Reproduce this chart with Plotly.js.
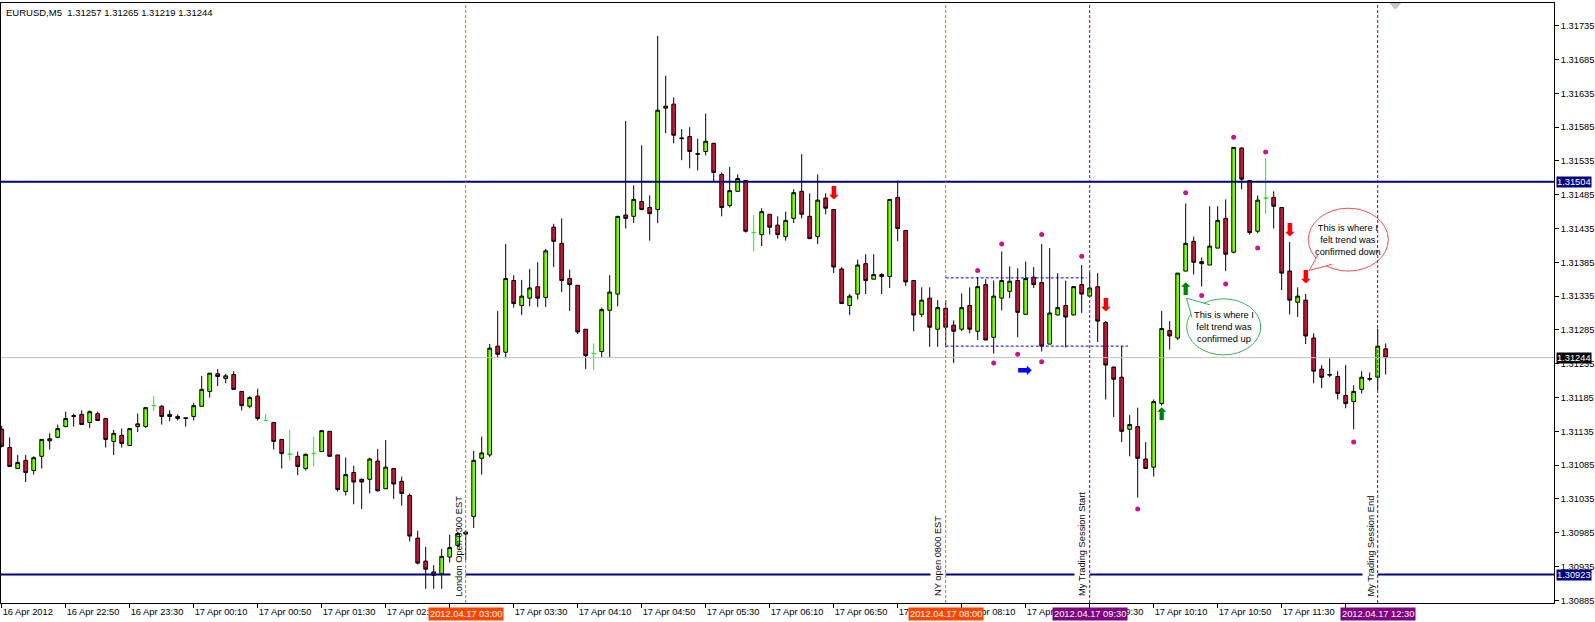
<!DOCTYPE html>
<html><head><meta charset="utf-8">
<script src="https://cdn.plot.ly/plotly-3.0.1.min.js"></script>
<style>html,body{margin:0;padding:0;background:#fff}#chart{width:1595px;height:622px}</style>
</head><body><div id="chart"></div>
<script>
// EURUSD M5 candles, 16 Apr 2012 22:10 -> 17 Apr 2012 12:35 (one candle every 5 minutes)
const openP = [1.31138,1.31111,1.31080,1.31092,1.31077,1.31098,1.31121,1.31126,1.31142,1.31157,
1.31160,1.31148,1.31161,1.31154,1.31120,1.31129,1.31114,1.31142,1.31142,1.31173,
1.31172,1.31160,1.31154,1.31155,1.31157,1.31172,1.31194,1.31220,1.31213,1.31219,
1.31194,1.31172,1.31187,1.31151,1.31148,1.31123,1.31101,1.31098,1.31080,1.31102,
1.31105,1.31135,1.31100,1.31046,1.31074,1.31064,1.31064,1.31091,1.31050,1.31080,
1.31061,1.31040,1.30977,1.30943,1.30927,1.30924,1.30949,1.30966,1.30983,1.31009,
1.31095,1.31100,1.31261,1.31252,1.31358,1.31321,1.31332,1.31349,1.31333,1.31437,
1.31413,1.31361,1.31351,1.31286,1.31250,1.31253,1.31314,1.31338,1.31455,1.31453,
1.31475,1.31466,1.31463,1.31613,1.31619,1.31569,1.31571,1.31546,1.31549,1.31561,
1.31515,1.31469,1.31490,1.31506,1.31429,1.31426,1.31456,1.31440,1.31423,1.31450,
1.31490,1.31453,1.31423,1.31480,1.31463,1.31375,1.31321,1.31338,1.31383,1.31360,
1.31364,1.31364,1.31481,1.31432,1.31358,1.31308,1.31332,1.31286,1.31317,1.31292,
1.31286,1.31321,1.31283,1.31352,1.31274,1.31332,1.31342,1.31358,1.31308,1.31363,
1.31355,1.31264,1.31307,1.31321,1.31307,1.31352,1.31335,1.31349,1.31296,1.31230,
1.31215,1.31138,1.31142,1.31094,1.31082,1.31176,1.31284,1.31273,1.31372,1.31416,
1.31386,1.31381,1.31406,1.31450,1.31400,1.31554,1.31506,1.31431,1.31480,1.31481,
1.31466,1.31372,1.31326,1.31329,1.31273,1.31227,1.31218,1.31216,1.31188,1.31179,
1.31197,1.31212,1.31215,1.31257];
const highP = [1.31143,1.31126,1.31100,1.31100,1.31098,1.31123,1.31132,1.31145,1.31164,1.31161,
1.31166,1.31166,1.31164,1.31155,1.31137,1.31139,1.31139,1.31161,1.31170,1.31187,
1.31174,1.31166,1.31160,1.31155,1.31177,1.31217,1.31221,1.31227,1.31220,1.31224,
1.31194,1.31187,1.31198,1.31161,1.31148,1.31123,1.31137,1.31105,1.31102,1.31127,
1.31136,1.31135,1.31100,1.31096,1.31084,1.31065,1.31096,1.31109,1.31122,1.31080,
1.31068,1.31043,1.30988,1.30964,1.30937,1.30961,1.30982,1.30986,1.30989,1.31106,
1.31127,1.31264,1.31313,1.31412,1.31366,1.31359,1.31375,1.31385,1.31405,1.31442,
1.31450,1.31374,1.31351,1.31286,1.31265,1.31318,1.31366,1.31453,1.31594,1.31499,
1.31558,1.31484,1.31720,1.31661,1.31629,1.31582,1.31585,1.31568,1.31605,1.31562,
1.31518,1.31526,1.31515,1.31506,1.31455,1.31465,1.31456,1.31453,1.31460,1.31493,
1.31545,1.31487,1.31515,1.31487,1.31463,1.31378,1.31338,1.31389,1.31397,1.31397,
1.31369,1.31478,1.31506,1.31432,1.31358,1.31348,1.31348,1.31329,1.31329,1.31299,
1.31339,1.31348,1.31363,1.31360,1.31358,1.31401,1.31379,1.31376,1.31386,1.31378,
1.31412,1.31406,1.31369,1.31358,1.31349,1.31381,1.31370,1.31369,1.31298,1.31231,
1.31261,1.31159,1.31170,1.31119,1.31182,1.31313,1.31298,1.31369,1.31472,1.31423,
1.31392,1.31468,1.31468,1.31478,1.31555,1.31555,1.31506,1.31484,1.31539,1.31490,
1.31466,1.31415,1.31348,1.31338,1.31280,1.31233,1.31243,1.31224,1.31233,1.31203,
1.31224,1.31222,1.31287,1.31265];
const lowP = [1.31111,1.31083,1.31080,1.31060,1.31071,1.31080,1.31108,1.31125,1.31141,1.31142,
1.31145,1.31140,1.31151,1.31111,1.31100,1.31111,1.31114,1.31134,1.31140,1.31165,
1.31145,1.31150,1.31151,1.31142,1.31151,1.31172,1.31185,1.31202,1.31206,1.31197,
1.31166,1.31169,1.31151,1.31151,1.31108,1.31080,1.31092,1.31070,1.31077,1.31083,
1.31105,1.31098,1.31046,1.31040,1.31027,1.31020,1.31043,1.31046,1.31050,1.31035,
1.31025,1.30972,1.30938,1.30902,1.30902,1.30902,1.30941,1.30964,1.30945,1.30992,
1.31071,1.31097,1.31243,1.31243,1.31318,1.31307,1.31320,1.31319,1.31319,1.31378,
1.31341,1.31313,1.31279,1.31227,1.31226,1.31245,1.31245,1.31320,1.31435,1.31443,
1.31462,1.31417,1.31443,1.31576,1.31561,1.31536,1.31524,1.31521,1.31543,1.31505,
1.31453,1.31466,1.31490,1.31429,1.31401,1.31409,1.31426,1.31420,1.31417,1.31443,
1.31450,1.31420,1.31412,1.31456,1.31369,1.31324,1.31307,1.31330,1.31338,1.31360,
1.31338,1.31347,1.31416,1.31350,1.31283,1.31304,1.31260,1.31260,1.31260,1.31236,
1.31283,1.31280,1.31270,1.31270,1.31250,1.31314,1.31332,1.31274,1.31307,1.31347,
1.31253,1.31264,1.31307,1.31259,1.31307,1.31310,1.31335,1.31267,1.31182,1.31156,
1.31119,1.31098,1.31037,1.31080,1.31068,1.31173,1.31256,1.31270,1.31372,1.31367,
1.31349,1.31381,1.31406,1.31372,1.31398,1.31493,1.31426,1.31428,1.31456,1.31435,
1.31344,1.31308,1.31304,1.31264,1.31206,1.31199,1.31215,1.31182,1.31169,1.31138,
1.31191,1.31209,1.31196,1.31219];
const closeP = [1.31113,1.31083,1.31089,1.31074,1.31096,1.31123,1.31124,1.31139,1.31154,1.31158,
1.31145,1.31164,1.31151,1.31123,1.31132,1.31117,1.31139,1.31146,1.31170,1.31173,
1.31157,1.31157,1.31157,1.31154,1.31173,1.31197,1.31221,1.31216,1.31217,1.31197,
1.31173,1.31185,1.31154,1.31151,1.31120,1.31102,1.31101,1.31083,1.31101,1.31102,
1.31136,1.31098,1.31049,1.31071,1.31060,1.31060,1.31094,1.31047,1.31082,1.31057,
1.31043,1.30980,1.30940,1.30931,1.30922,1.30950,1.30963,1.30984,1.30986,1.31092,
1.31103,1.31258,1.31249,1.31361,1.31324,1.31335,1.31347,1.31332,1.31402,1.31416,
1.31358,1.31352,1.31282,1.31247,1.31250,1.31315,1.31341,1.31453,1.31450,1.31478,
1.31463,1.31457,1.31610,1.31616,1.31573,1.31568,1.31549,1.31545,1.31564,1.31518,
1.31466,1.31491,1.31509,1.31431,1.31429,1.31460,1.31437,1.31426,1.31447,1.31488,
1.31456,1.31420,1.31477,1.31465,1.31378,1.31324,1.31335,1.31381,1.31358,1.31367,
1.31367,1.31478,1.31435,1.31356,1.31307,1.31329,1.31289,1.31318,1.31289,1.31283,
1.31318,1.31286,1.31349,1.31270,1.31335,1.31358,1.31357,1.31311,1.31361,1.31352,
1.31261,1.31310,1.31318,1.31304,1.31349,1.31338,1.31347,1.31298,1.31233,1.31212,
1.31135,1.31145,1.31095,1.31080,1.31179,1.31287,1.31276,1.31369,1.31413,1.31385,
1.31383,1.31409,1.31447,1.31397,1.31555,1.31508,1.31429,1.31477,1.31480,1.31468,
1.31369,1.31329,1.31335,1.31276,1.31224,1.31215,1.31219,1.31191,1.31176,1.31194,
1.31215,1.31213,1.31261,1.31244];

// time axis labels (every 8 candles = 40 minutes); labels fully hidden under the event stamps are left blank
const xTickIdx = [0,8,16,24,32,40,48,56,64,72,80,88,96,104,112,120,128,136,144,152,160,168];
const xTickLabels = ['16 Apr 2012','16 Apr 22:50','16 Apr 23:30','17 Apr 00:10','17 Apr 00:50','17 Apr 01:30',
 '17 Apr 02:10','','17 Apr 03:30','17 Apr 04:10','17 Apr 04:50','17 Apr 05:30','17 Apr 06:10',
 '17 Apr 06:50','17 Apr 07:30','17 Apr 08:10','17 Apr 08:50','17 Apr 09:30','17 Apr 10:10','17 Apr 10:50',
 '17 Apr 11:30',''];
const yTickVals = [1.31735,1.31685,1.31635,1.31585,1.31535,1.31485,1.31435,1.31385,1.31335,1.31285,
 1.31235,1.31185,1.31135,1.31085,1.31035,1.30985,1.30935,1.30885];

// vertical event lines
const eventIdx = [58,118,136,172];
const eventText = ['London Open 0300 EST','NY open 0800 EST','My Trading Session Start','My Trading Session End'];
const eventStamp = ['2012.04.17 03:00','2012.04.17 08:00','2012.04.17 09:30','2012.04.17 12:30'];
const eventColor = ['#D2691E','#D2691E','#800080','#800080'];
const eventBg = ['#FF4500','#FF4500','#800080','#800080'];

// horizontal levels
const resistance = 1.31504, support = 1.30923;
const rangeTop = 1.31362, rangeBottom = 1.31261;
const rangeStart = 118, rangeTopEnd = 135.6, rangeBottomEnd = 140.8;

// fractal dots
const dotIdx = [122,125,130,135,124,127,130,142,148,154,158,150,153,157,169];
const dotPrice = [1.31373,1.31412,1.31426,1.31394,1.31236,1.31249,1.31238,1.31020,1.31488,1.31570,1.31548,1.31336,1.31353,1.31406,1.31119];

// arrows
const downIdx = [104,138,161,163];
const downPrice = [1.31486,1.31320,1.31431,1.31361];
const upIdx = [148,145];
const upPrice = [1.31343,1.31158];
const rightIdx = [127.85];
const rightPrice = [1.31224];

const N = openP.length;
const idx = openP.map((_, i) => i);
const mainI = idx.filter(i => openP[i] !== closeP[i]);
const dojiI = idx.filter(i => openP[i] === closeP[i]);
const pick = (arr, ii) => ii.map(i => arr[i]);

const FONT = 'Liberation Sans, Arial, sans-serif';
const traces = [
 {type:'candlestick', x: mainI, open: pick(openP, mainI), high: pick(highP, mainI), low: pick(lowP, mainI), close: pick(closeP, mainI),
  increasing:{line:{color:'#000000', width:1}, fillcolor:'#7CFC00'},
  decreasing:{line:{color:'#000000', width:1}, fillcolor:'#C0193F'},
  whiskerwidth:0, hoverinfo:'skip', showlegend:false},
 {type:'candlestick', x: dojiI, open: pick(openP, dojiI), high: pick(highP, dojiI), low: pick(lowP, dojiI), close: pick(closeP, dojiI),
  increasing:{line:{color:'#00FF00', width:1}, fillcolor:'#00FF00'},
  decreasing:{line:{color:'#00FF00', width:1}, fillcolor:'#00FF00'},
  whiskerwidth:0, hoverinfo:'skip', showlegend:false},
 {type:'scatter', mode:'markers', x: dotIdx, y: dotPrice, marker:{color:'#C8168C', size:5}, hoverinfo:'skip', showlegend:false},
 {type:'scatter', mode:'text', x: downIdx, y: downPrice, text: downIdx.map(()=>'⬇'), textfont:{family:'DejaVu Sans', size:18, weight:'bold', color:'#FF0000'}, hoverinfo:'skip', showlegend:false},
 {type:'scatter', mode:'text', x: upIdx, y: upPrice, text: upIdx.map(()=>'⬆'), textfont:{family:'DejaVu Sans', size:17, weight:'bold', color:'#008000'}, hoverinfo:'skip', showlegend:false},
 {type:'scatter', mode:'text', x: rightIdx, y: rightPrice, text: rightIdx.map(()=>'➡'), textfont:{family:'DejaVu Sans', size:18, weight:'bold', color:'#0000FF'}, hoverinfo:'skip', showlegend:false}
];

const shapes = [];
// bubbles
shapes.push({type:'circle', xref:'x', yref:'y', x0:148.125, x1:157.375, y0:1.31248, y1:1.31331, line:{color:'#3CB060', width:1}, fillcolor:'#FFFFFF'});
shapes.push({type:'path', xref:'x', yref:'y', path:'M148.79,1.31303 L148.1,1.31332 L151.04,1.31322', line:{color:'#3CB060', width:1}, fillcolor:'#FFFFFF'});
shapes.push({type:'circle', xref:'x', yref:'y', x0:163.33, x1:173.33, y0:1.31372, y1:1.31465, line:{color:'#F05050', width:1}, fillcolor:'#FFFFFF'});
shapes.push({type:'path', xref:'x', yref:'y', path:'M164.54,1.31396 L163.45,1.31373 L166.29,1.31382', line:{color:'#F05050', width:1}, fillcolor:'#FFFFFF'});
// resistance line
shapes.push({type:'line', xref:'paper', yref:'y', x0:0, x1:1, y0:resistance, y1:resistance, line:{color:'#000080', width:2}});
// support line with gaps at event labels
let segStart = -1;
eventIdx.forEach(e => {
  shapes.push({type:'line', xref:'x', yref:'y', x0:segStart, x1:e-1.9, y0:support, y1:support, line:{color:'#000080', width:2}});
  segStart = e;
});
shapes.push({type:'line', xref:'x', yref:'y', x0:segStart, x1:200, y0:support, y1:support, line:{color:'#000080', width:2}});
// bid line
shapes.push({type:'line', xref:'paper', yref:'y', x0:0, x1:1, y0:closeP[N-1], y1:closeP[N-1], line:{color:'#C0C0C0', width:1}});
// range box
shapes.push({type:'line', xref:'x', yref:'y', x0:rangeStart, x1:rangeTopEnd, y0:rangeTop, y1:rangeTop, line:{color:'#0000FF', width:1, dash:'3px,2px'}});
shapes.push({type:'line', xref:'x', yref:'y', x0:rangeStart, x1:rangeBottomEnd, y0:rangeBottom, y1:rangeBottom, line:{color:'#0000FF', width:1, dash:'3px,2px'}});
// event lines
eventIdx.forEach((e, k) => {
  shapes.push({type:'line', xref:'x', yref:'paper', x0:e, x1:e, y0:0, y1:1, line:{color:eventColor[k], width:1, dash:'3px,2px'}});
});
// shift marker
shapes.push({type:'path', xref:'x', yref:'y', path:'M173.6,1.317686 L174.85,1.317686 L174.2,1.317597 Z', line:{color:'#B0B0B0', width:1}, fillcolor:'#C8C8C8'});

const annotations = [];
annotations.push({xref:'paper', yref:'paper', x:0, y:1, xshift:3, yshift:-2, xanchor:'left', yanchor:'top', showarrow:false,
  text:'EURUSD,M5  1.31257 1.31265 1.31219 1.31244', font:{family:FONT, size:9.5, color:'#000'}});
eventIdx.forEach((e, k) => {
  annotations.push({xref:'x', yref:'y', x:e, xshift:-7, y:1.30888, yanchor:'bottom', xanchor:'center', textangle:-90, showarrow:false,
    text:eventText[k], font:{family:FONT, size:9.3, color:'#000'}});
  annotations.push({xref:'x', yref:'paper', x:e, y:-0.0183, yanchor:'middle', xanchor:'center', showarrow:false,
    text:eventStamp[k], bgcolor:eventBg[k], borderpad:1, font:{family:FONT, size:9.3, color:'#FFFFFF'}});
});
[[resistance,'#000080'],[closeP[N-1],'#000000'],[support,'#000080']].forEach(([v,c]) => {
  annotations.push({xref:'paper', yref:'y', x:1, xshift:2, y:v, xanchor:'left', yanchor:'middle', showarrow:false,
    text:v.toFixed(5), bgcolor:c, borderpad:0, font:{family:FONT, size:9.3, color:'#FFFFFF'}});
});
annotations.push({xref:'x', yref:'y', x:152.75, y:1.31289, showarrow:false, align:'center',
  text:'This is where I<br>felt trend was<br>confirmed up', font:{family:FONT, size:9.3, color:'#000'}});
annotations.push({xref:'x', yref:'y', x:168.3, y:1.31418, showarrow:false, align:'center',
  text:'This is where I<br>felt trend was<br>confirmed down', font:{family:FONT, size:9.3, color:'#000'}});

const layout = {
  width:1595, height:622,
  margin:{l:1, r:41, t:3, b:19, pad:0},
  paper_bgcolor:'#FFFFFF', plot_bgcolor:'#FFFFFF',
  font:{family:FONT, size:9.3, color:'#000'},
  showlegend:false, boxgap:0.33,
  xaxis:{range:[-0.0875, 194.04], tickmode:'array', tickvals:xTickIdx, ticktext:xTickLabels,
    ticks:'outside', ticklen:4, tickcolor:'#000', ticklabelposition:'outside right',
    showline:true, linecolor:'#000', linewidth:1, mirror:true, showgrid:false, zeroline:false,
    rangeslider:{visible:false}, fixedrange:true, tickfont:{family:FONT, size:9.3, color:'#000'}},
  yaxis:{range:[1.30881, 1.317686], side:'right', tickmode:'array', tickvals:yTickVals, ticktext:yTickVals.map(v=>v.toFixed(5)),
    ticks:'outside', ticklen:4, tickcolor:'#000', showline:true, linecolor:'#000', linewidth:1, mirror:true,
    showgrid:false, zeroline:false, fixedrange:true, tickfont:{family:FONT, size:9.3, color:'#000'}},
  shapes: shapes, annotations: annotations
};
Plotly.newPlot('chart', traces, layout, {displayModeBar:false, staticPlot:true});
</script>
</body></html>
